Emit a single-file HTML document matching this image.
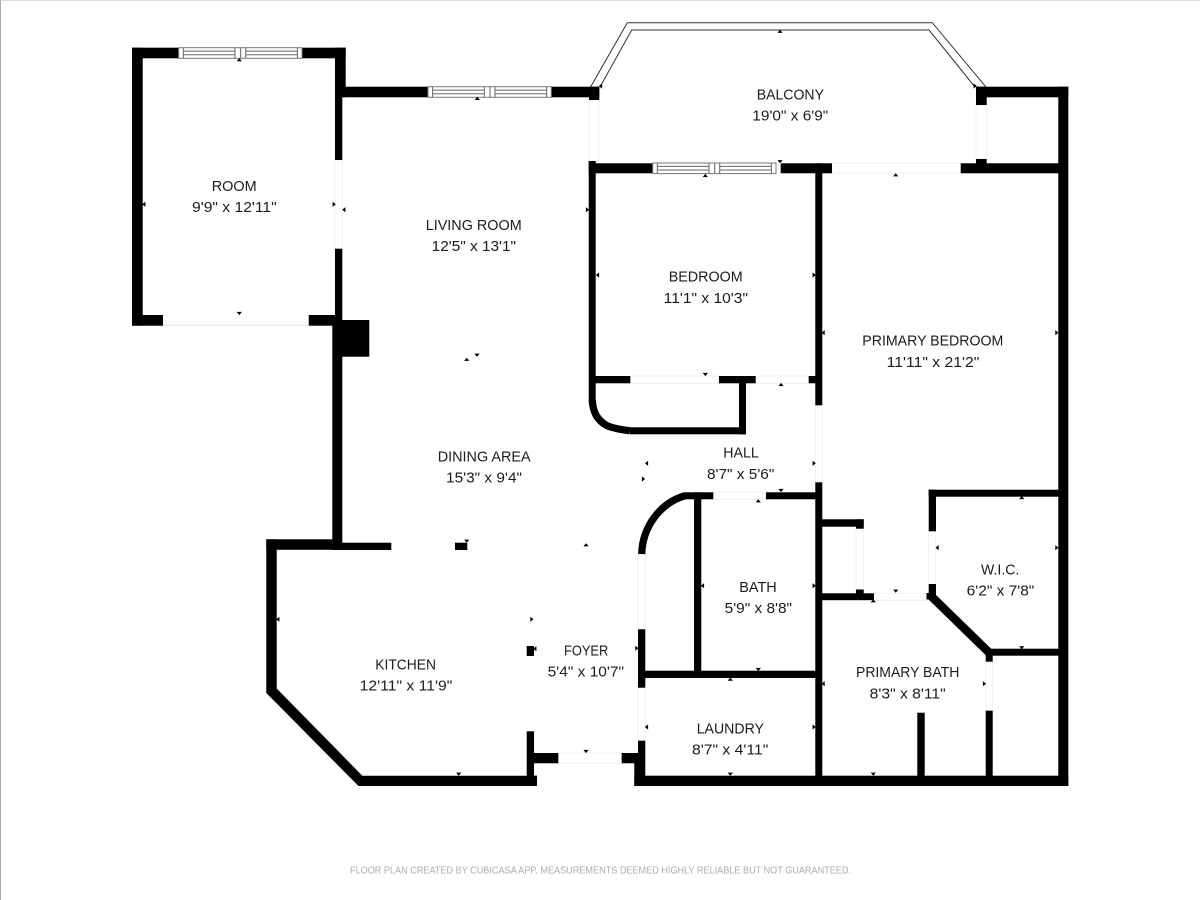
<!DOCTYPE html>
<html><head><meta charset="utf-8"><style>
html,body{margin:0;padding:0;background:#fff}
svg{display:block}
text{font-family:"Liberation Sans",sans-serif;font-size:15.2px;fill:#1c1c1c}
.f{font-size:10px;fill:#adadad}
</style></head><body>
<svg width="1200" height="900" viewBox="0 0 1200 900" xmlns="http://www.w3.org/2000/svg">
<defs>
<g id="win">
<rect x="0" y="0" width="123.3" height="10.6" fill="#fff" stroke="#777" stroke-width="1"/>
<path d="M4.6 0V10.6M56.3 0V10.6M62 0V10.6M67 0V10.6M118.7 0V10.6" stroke="#666" stroke-width="1" fill="none"/>
<path d="M4.6 3.4H56.3M4.6 7H56.3M67 3.4H118.7M67 7H118.7" stroke="#666" stroke-width="1" fill="none"/>
</g>
<path id="u" d="M-2.6 1.4H2.6L0 -1.8Z"/>
<path id="d" d="M-2.6 -1.4H2.6L0 1.8Z"/>
<path id="l" d="M1.4 -2.6V2.6L-1.8 0Z"/>
<path id="r" d="M-1.4 -2.6V2.6L1.8 0Z"/>
</defs>
<rect width="1200" height="900" fill="#fff"/>
<rect x="0" y="0" width="1" height="900" fill="#aaa"/>
<rect x="0" y="0" width="1200" height=".7" fill="#ccc"/>

<!-- door openings -->
<g fill="#fff" stroke="#f0f0f0" stroke-width="1">
<path d="M163 325.3H309" fill="none" stroke="#e6e6e6"/>
<rect x="335" y="160" width="7.3" height="89"/>
<rect x="589" y="100" width="10" height="61"/>
<rect x="976" y="105" width="10.7" height="54"/>
<rect x="832" y="163.3" width="129" height="10"/>
<rect x="630" y="376" width="89" height="7.3"/>
<rect x="755.7" y="376" width="53" height="7.3"/>
<rect x="815.3" y="405" width="7" height="77"/>
<rect x="713.3" y="492.3" width="52.7" height="7"/>
<rect x="856" y="528.7" width="7.7" height="61"/>
<rect x="874" y="593.3" width="53.3" height="7"/>
<rect x="928.7" y="531.3" width="7" height="53"/>
<rect x="985.7" y="661.7" width="7" height="49"/>
<rect x="638" y="554" width="7.3" height="75.3"/>
<rect x="638" y="687.7" width="7.3" height="53"/>
<rect x="558.3" y="753" width="63.4" height="10.3"/>
</g>

<!-- walls -->
<g fill="#000">
<!-- room -->
<rect x="132" y="47.7" width="46.7" height="10.6"/>
<rect x="302" y="47.7" width="43.7" height="10.6"/>
<rect x="132" y="47.7" width="10.7" height="278"/>
<rect x="132" y="315" width="31" height="10.7"/>
<rect x="308.7" y="315" width="30" height="10.7"/>
<rect x="335" y="47.7" width="10.7" height="49.6"/>
<!-- living -->
<rect x="335" y="86.7" width="93" height="10.6"/>
<rect x="550.7" y="86.7" width="48.6" height="10.6"/>
<rect x="589" y="86.7" width="10.3" height="13.3"/>
<rect x="335" y="97" width="7.3" height="63"/>
<rect x="335" y="248.7" width="7.3" height="72"/>
<rect x="332.3" y="320" width="37" height="36.7"/>
<rect x="332.3" y="356" width="10" height="187"/>
<!-- kitchen -->
<rect x="266.3" y="539.3" width="66" height="10.5"/>
<rect x="332" y="542.7" width="59.3" height="7.3"/>
<rect x="266.3" y="539.3" width="10.4" height="153"/>
<path d="M266.3 691L276.7 688.5L362.3 775.7H537V786H358.5L266.3 693Z"/>
<rect x="526.7" y="731.3" width="7.3" height="50"/>
<rect x="526.7" y="775.7" width="10.3" height="10.3"/>
<rect x="530" y="753" width="28.3" height="10.3"/>
<rect x="455" y="542.7" width="12.3" height="7.3"/>
<rect x="526.7" y="646" width="7.3" height="10"/>
<!-- entry / bottom -->
<rect x="621.7" y="753" width="18" height="10.3"/>
<rect x="634.3" y="760" width="10" height="26"/>
<rect x="638" y="740.7" width="7.3" height="36"/>
<rect x="634.3" y="775.7" width="434" height="10.3"/>
<rect x="638" y="629.3" width="7.3" height="58.4"/>
<rect x="645" y="670.7" width="172" height="7.3"/>
<rect x="694" y="492.3" width="7.3" height="180"/>
<rect x="683" y="492.3" width="30.3" height="7"/>
<rect x="766" y="492.3" width="50" height="7"/>
<!-- bedroom -->
<rect x="588.7" y="161" width="7" height="240"/>
<rect x="588.7" y="163.3" width="64" height="10"/>
<rect x="780.7" y="163.3" width="51.3" height="10"/>
<rect x="815.3" y="163.3" width="7" height="242"/>
<rect x="595" y="376" width="35.3" height="7.3"/>
<rect x="719" y="376" width="36.7" height="7.3"/>
<rect x="808.7" y="376" width="8" height="7.3"/>
<rect x="739" y="380" width="7" height="54.3"/>
<rect x="630" y="427.3" width="116" height="7"/>
<!-- right side -->
<rect x="976" y="86.7" width="92.3" height="10.6"/>
<rect x="976" y="86.7" width="10.7" height="18.3"/>
<rect x="976" y="159" width="10.7" height="14"/>
<rect x="960.7" y="163.3" width="107" height="10"/>
<rect x="1058.3" y="86.7" width="10" height="699"/>
<rect x="815.3" y="482.3" width="7" height="300"/>
<rect x="822" y="519.3" width="41.7" height="7.4"/>
<rect x="856" y="519.3" width="7.7" height="9.4"/>
<rect x="856" y="589.5" width="7.7" height="6"/>
<rect x="822" y="593.3" width="52" height="6.9"/>
<rect x="928.7" y="489.7" width="130" height="7"/>
<rect x="928.7" y="489.7" width="7.3" height="41.6"/>
<rect x="928.7" y="584" width="7.3" height="12"/>
<rect x="926.5" y="593" width="6" height="6.5"/>
<rect x="989" y="648.7" width="70" height="7"/>
<rect x="985.7" y="651" width="7" height="10.7"/>
<rect x="985.7" y="710.7" width="7" height="66"/>
<rect x="917.3" y="712.7" width="7.4" height="64"/>
</g>
<g fill="none" stroke="#000" stroke-width="7.3">
<path d="M641.7 554C642.5 527 660 503 685 495.8"/>
<path d="M592.2 400C593 412 597 420 606.7 425.5C612 428 622 429.8 630 430.8"/>
</g>
<path d="M931 596L989.5 653" fill="none" stroke="#000" stroke-width="8.5"/>

<!-- windows -->
<use href="#win" x="178.7" y="47.7"/>
<use href="#win" x="428" y="86.7"/>
<use href="#win" x="652.7" y="163"/>

<!-- balcony rail -->
<g fill="none" stroke="#333" stroke-width="1">
<path d="M590.7 86.7L627.3 22.7H932.3L985.7 86.7"/>
<path d="M600 87L631.7 30H929L975 87"/>
</g>

<!-- markers -->
<g fill="#000">
<use href="#u" x="239.3" y="59.8"/><use href="#u" x="477.3" y="98.6"/><use href="#u" x="466.7" y="359.5"/>
<use href="#d" x="239.3" y="313.3"/><use href="#d" x="477" y="355"/>
<use href="#l" x="144" y="204.3"/><use href="#l" x="344" y="209.7"/><use href="#l" x="597.7" y="275"/>
<use href="#r" x="334" y="204.3"/><use href="#r" x="587.3" y="209.7"/>
<use href="#u" x="780" y="31.5"/><use href="#l" x="600.7" y="86"/><use href="#r" x="975" y="86"/>
<use href="#d" x="780" y="161.5"/><use href="#u" x="705.3" y="175.7"/><use href="#u" x="895.7" y="175"/>
<use href="#r" x="814" y="275"/><use href="#l" x="823.3" y="332.7"/><use href="#r" x="1056.7" y="332.7"/>
<use href="#d" x="705.3" y="374.3"/><use href="#u" x="781" y="384.7"/><use href="#l" x="646.7" y="463.3"/>
<use href="#r" x="643.3" y="479"/><use href="#r" x="814" y="463.3"/><use href="#d" x="781" y="490.3"/>
<use href="#u" x="758.3" y="501"/><use href="#u" x="586" y="545"/><use href="#l" x="702.7" y="585.7"/>
<use href="#r" x="814" y="585.7"/><use href="#u" x="1021.7" y="497.7"/><use href="#l" x="937.3" y="547.7"/>
<use href="#r" x="1056.7" y="547.7"/><use href="#d" x="895.7" y="591"/><use href="#u" x="873.3" y="601"/>
<use href="#d" x="758.3" y="669.3"/><use href="#u" x="730.3" y="679.3"/><use href="#r" x="636.7" y="648.3"/>
<use href="#d" x="1021.7" y="647.7"/><use href="#l" x="823.3" y="683.7"/><use href="#r" x="984.3" y="683.7"/>
<use href="#l" x="646.7" y="727"/><use href="#r" x="814" y="727"/><use href="#d" x="586" y="751.3"/>
<use href="#d" x="730.3" y="774"/><use href="#d" x="873.3" y="774"/><use href="#l" x="278" y="619.3"/>
<use href="#r" x="531.7" y="619.3"/><use href="#l" x="535" y="648.7"/><use href="#d" x="466.7" y="541"/>
<use href="#d" x="458.7" y="774"/>
</g>

<!-- labels -->
<g>
<text x="211.7" y="191" textLength="45" lengthAdjust="spacingAndGlyphs">ROOM</text>
<text x="192" y="212.2" textLength="84.7" lengthAdjust="spacingAndGlyphs">9'9" x 12'11"</text>
<text x="425.7" y="230" textLength="96" lengthAdjust="spacingAndGlyphs">LIVING ROOM</text>
<text x="431.7" y="251.2" textLength="84.3" lengthAdjust="spacingAndGlyphs">12'5" x 13'1"</text>
<text x="756.7" y="99.3" textLength="67.3" lengthAdjust="spacingAndGlyphs">BALCONY</text>
<text x="752.3" y="120.5" textLength="76" lengthAdjust="spacingAndGlyphs">19'0" x 6'9"</text>
<text x="668.7" y="281.6" textLength="74" lengthAdjust="spacingAndGlyphs">BEDROOM</text>
<text x="663.7" y="302.8" textLength="84.3" lengthAdjust="spacingAndGlyphs">11'1" x 10'3"</text>
<text x="862.3" y="345.6" textLength="141" lengthAdjust="spacingAndGlyphs">PRIMARY BEDROOM</text>
<text x="886.7" y="367.1" textLength="92.6" lengthAdjust="spacingAndGlyphs">11'11" x 21'2"</text>
<text x="723.3" y="457.6" textLength="35.4" lengthAdjust="spacingAndGlyphs">HALL</text>
<text x="707" y="478.8" textLength="67.3" lengthAdjust="spacingAndGlyphs">8'7" x 5'6"</text>
<text x="437.7" y="461.3" textLength="93" lengthAdjust="spacingAndGlyphs">DINING AREA</text>
<text x="446" y="482.5" textLength="76" lengthAdjust="spacingAndGlyphs">15'3" x 9'4"</text>
<text x="739.3" y="592" textLength="37.4" lengthAdjust="spacingAndGlyphs">BATH</text>
<text x="724.7" y="612.8" textLength="67.3" lengthAdjust="spacingAndGlyphs">5'9" x 8'8"</text>
<text x="981" y="574.3" textLength="38.3" lengthAdjust="spacingAndGlyphs">W.I.C.</text>
<text x="966.7" y="595.5" textLength="67.6" lengthAdjust="spacingAndGlyphs">6'2" x 7'8"</text>
<text x="856" y="677" textLength="103.3" lengthAdjust="spacingAndGlyphs">PRIMARY BATH</text>
<text x="869.7" y="698.7" textLength="76" lengthAdjust="spacingAndGlyphs">8'3" x 8'11"</text>
<text x="696.7" y="733.3" textLength="67.3" lengthAdjust="spacingAndGlyphs">LAUNDRY</text>
<text x="692" y="754.7" textLength="76.3" lengthAdjust="spacingAndGlyphs">8'7" x 4'11"</text>
<text x="564" y="655.3" textLength="44.3" lengthAdjust="spacingAndGlyphs">FOYER</text>
<text x="547.7" y="676.5" textLength="76.3" lengthAdjust="spacingAndGlyphs">5'4" x 10'7"</text>
<text x="375.3" y="669.3" textLength="60.7" lengthAdjust="spacingAndGlyphs">KITCHEN</text>
<text x="359.7" y="690.5" textLength="92.6" lengthAdjust="spacingAndGlyphs">12'11" x 11'9"</text>
<text class="f" x="350" y="873.5" textLength="501" lengthAdjust="spacingAndGlyphs">FLOOR PLAN CREATED BY CUBICASA APP. MEASUREMENTS DEEMED HIGHLY RELIABLE BUT NOT GUARANTEED.</text>
</g>
</svg>
</body></html>
